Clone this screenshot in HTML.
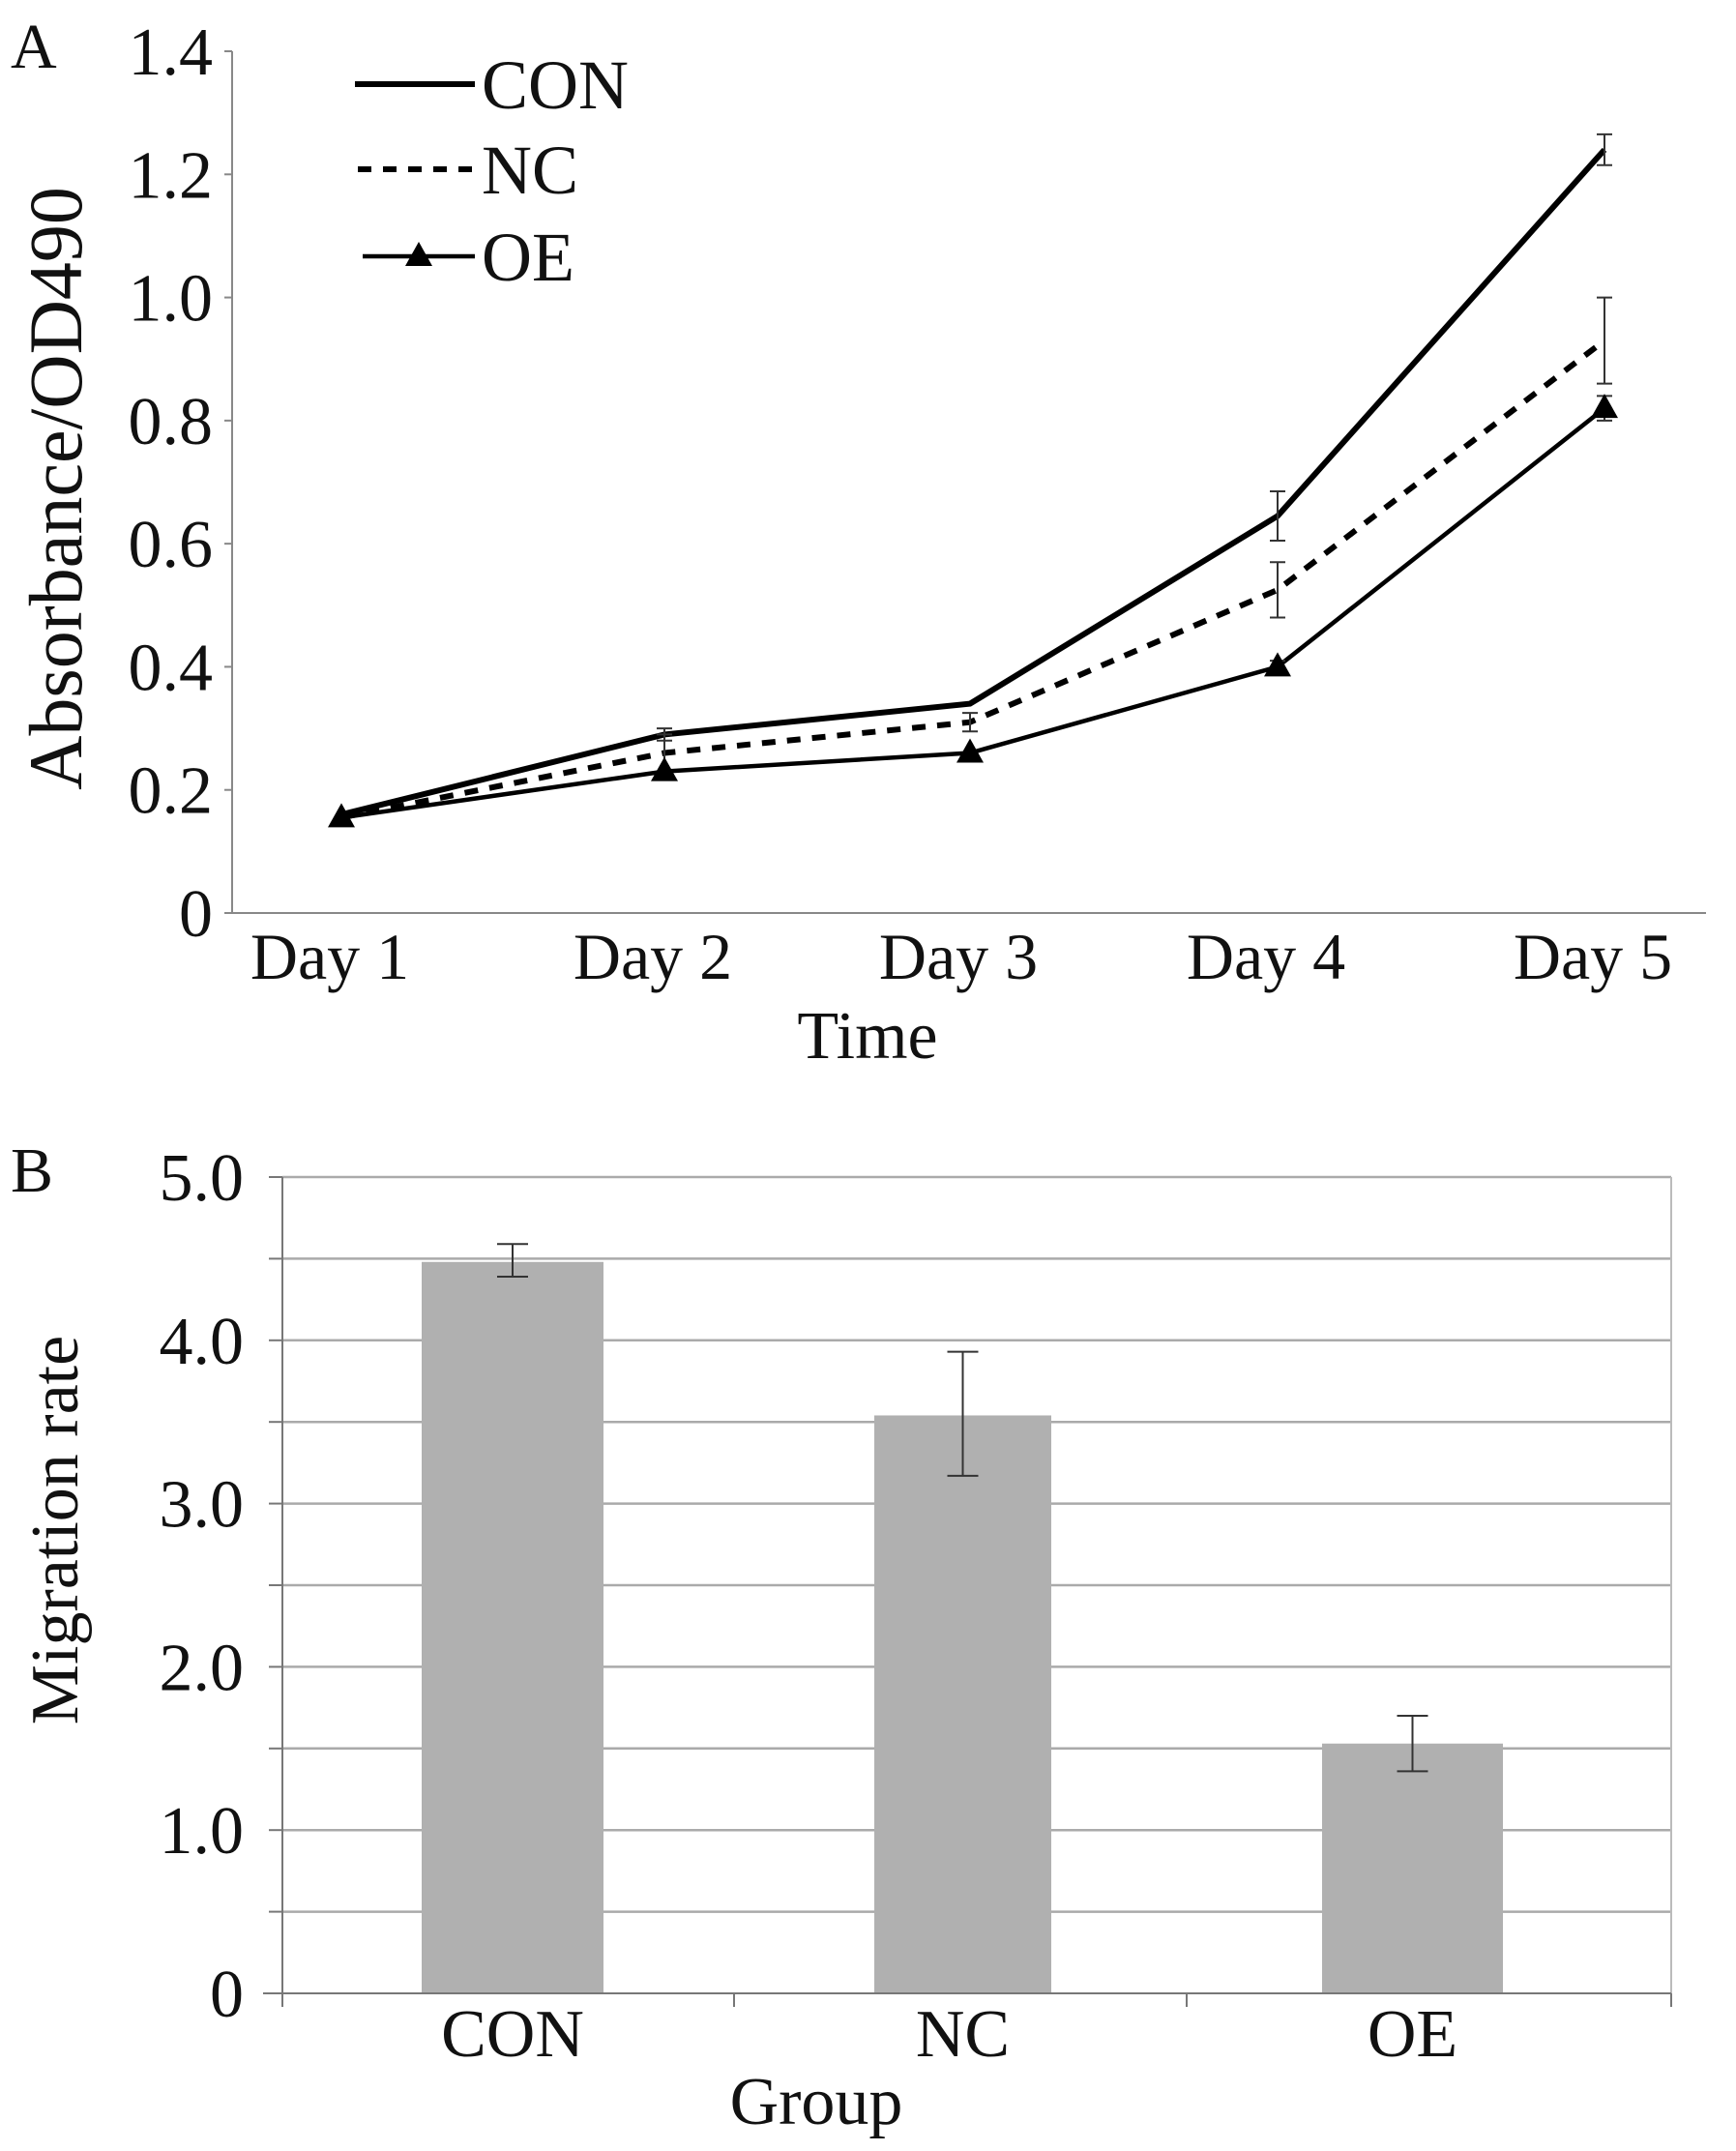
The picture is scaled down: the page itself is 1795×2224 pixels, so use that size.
<!DOCTYPE html>
<html><head><meta charset="utf-8"><style>
html,body{margin:0;padding:0;background:#fff}
svg{display:block}
text{font-family:"Liberation Serif",serif;fill:#111}
</style></head><body>
<svg id="chart" width="1795" height="2224" viewBox="0 0 1795 2224" xmlns="http://www.w3.org/2000/svg">
<g id="pa"></g>
<g id="pb"></g>
</svg>
<script>
const days=["Day 1","Day 2","Day 3","Day 4","Day 5"];
const conVals=[0.16,0.29,0.34,0.645,1.24];
const ncVals=[0.155,0.26,0.31,0.525,0.93];
const oeVals=[0.155,0.23,0.26,0.40,0.82];
const conErr=[0,0.01,0,0.04,0.025];
const ncErr=[0,0.03,0.015,0.045,0.07];
const oeErr=[0,0,0,0.01,0.02];
const aTicks=[0,0.2,0.4,0.6,0.8,1.0,1.2,1.4];
const aTickLabels=["0","0.2","0.4","0.6","0.8","1.0","1.2","1.4"];
const groups=["CON","NC","OE"];
const migVals=[4.48,3.54,1.53];
const migLo=[4.39,3.17,1.36];
const migHi=[4.59,3.93,1.70];
const bTicks=[0,1,2,3,4,5];
const bTickLabels=["0","1.0","2.0","3.0","4.0","5.0"];
const NS="http://www.w3.org/2000/svg";
function mk(p,t,a,txt){const e=document.createElementNS(NS,t);for(const k in a)e.setAttribute(k,a[k]);if(txt!==undefined)e.textContent=txt;p.appendChild(e);return e;}
// Panel A
const A=document.getElementById('pa');
const ax=240,ay0=944,ay1=53,axR=1764;
const dayX=[353,687,1003,1321,1659];
const ya=v=>ay0-(v/1.4)*(ay0-ay1);
function xd(i){return dayX[0]+i*0+ (dayX[i]-dayX[0]);}
let e=mk(A,'text',{x:11,y:70,'font-size':66},'A');

e=mk(A,'line',{x1:ax,y1:ay1,x2:ax,y2:ay0,stroke:'#888','stroke-width':2});

e=mk(A,'line',{x1:ax,y1:ay0,x2:axR,y2:ay0,stroke:'#888','stroke-width':2});

aTicks.forEach((t,i)=>{
 const y=ya(t);
 mk(A,'line',{x1:ax-8,y1:y,x2:ax,y2:y,stroke:'#888','stroke-width':2});
 const l=mk(A,'text',{x:220,y:y+24,'font-size':70,'text-anchor':'end'},aTickLabels[i]);
 
});
days.forEach((d,i)=>{
 const l=mk(A,'text',{x:xd(i)-12,y:1012,'font-size':68,'text-anchor':'middle'},d);
 
});
e=mk(A,'text',{x:897,y:1094,'font-size':70,'text-anchor':'middle'},'Time');

e=mk(A,'text',{x:0,y:0,'font-size':78,'text-anchor':'middle',transform:'translate(84,505) rotate(-90)'},'Absorbance/OD490');

function series(vals,errs,style,name){
 const pts=vals.map((v,i)=>xd(i)+','+ya(v)).join(' ');
 const p=mk(A,'polyline',Object.assign({points:pts,fill:'none',stroke:'#000'},style));
 
 vals.forEach((v,i)=>{if(errs[i]>0){const x=xd(i);
  const g=mk(A,'path',{d:`M${x},${ya(v-errs[i])}V${ya(v+errs[i])}M${x-8},${ya(v-errs[i])}h16M${x-8},${ya(v+errs[i])}h16`,stroke:'#333','stroke-width':2,fill:'none'});
  }});
}
series(conVals,conErr,{'stroke-width':6},'con');
series(ncVals,ncErr,{'stroke-width':6,'stroke-dasharray':'14 12'},'nc');
series(oeVals,oeErr,{'stroke-width':4.5},'oe');
oeVals.forEach((v,i)=>{const x=xd(i),y=ya(v);
 const m=mk(A,'polygon',{points:`${x},${y-15} ${x-14},${y+10} ${x+14},${y+10}`,fill:'#000'});
 });
// legend
e=mk(A,'line',{x1:367,y1:87,x2:491,y2:87,stroke:'#000','stroke-width':6});

e=mk(A,'text',{x:498,y:112,'font-size':72},'CON');
e=mk(A,'line',{x1:370,y1:175,x2:491,y2:175,stroke:'#000','stroke-width':6,'stroke-dasharray':'14 12'});

e=mk(A,'text',{x:498,y:200,'font-size':72},'NC');
e=mk(A,'line',{x1:375,y1:265,x2:491,y2:265,stroke:'#000','stroke-width':4.5});

e=mk(A,'polygon',{points:'433,250 419,275 447,275',fill:'#000'});
e=mk(A,'text',{x:498,y:290,'font-size':72},'OE');
// Panel B
const B=document.getElementById('pb');
const bx=292,by0=2061,by1=1217,bR=1728;
const yb=v=>by0-(v/5)*(by0-by1);
const barL=[436,904,1367],barW=[188,183,187];
e=mk(B,'text',{x:11,y:1232,'font-size':66},'B');

for(let k=1;k<=10;k++){const g=mk(B,'line',{x1:bx,y1:yb(k*0.5),x2:bR,y2:yb(k*0.5),stroke:'#aaa','stroke-width':2.5});
 }
e=mk(B,'line',{x1:bR,y1:by1,x2:bR,y2:by0,stroke:'#bbb','stroke-width':2});
e=mk(B,'line',{x1:bx,y1:by1,x2:bx,y2:by0,stroke:'#777','stroke-width':2});

for(let k=0;k<=10;k++){mk(B,'line',{x1:bx-14,y1:yb(k*0.5),x2:bx,y2:yb(k*0.5),stroke:'#777','stroke-width':2});}
bTicks.forEach((t,i)=>{const l=mk(B,'text',{x:252,y:yb(t)+24,'font-size':70,'text-anchor':'end'},bTickLabels[i]);
 });
groups.forEach((g,i)=>{
 const r=mk(B,'rect',{x:barL[i],y:yb(migVals[i]),width:barW[i],height:by0-yb(migVals[i]),fill:'#b0b0b0'});
 
 const cx=barL[i]+barW[i]/2;
 const eb=mk(B,'path',{d:`M${cx},${yb(migLo[i])}V${yb(migHi[i])}M${cx-16},${yb(migLo[i])}h32M${cx-16},${yb(migHi[i])}h32`,stroke:'#333','stroke-width':2,fill:'none'});
 
 const l=mk(B,'text',{x:cx,y:2126,'font-size':70,'text-anchor':'middle'},g);
 
});
e=mk(B,'line',{x1:bx-20,y1:by0,x2:bR,y2:by0,stroke:'#777','stroke-width':2});

[292,759,1227,1728].forEach(x=>mk(B,'line',{x1:x,y1:by0,x2:x,y2:by0+14,stroke:'#777','stroke-width':2}));
e=mk(B,'text',{x:844,y:2196,'font-size':70,'text-anchor':'middle'},'Group');

e=mk(B,'text',{x:0,y:0,'font-size':70,'text-anchor':'middle',transform:'translate(80,1582) rotate(-90)'},'Migration rate');

</script>
</body></html>
